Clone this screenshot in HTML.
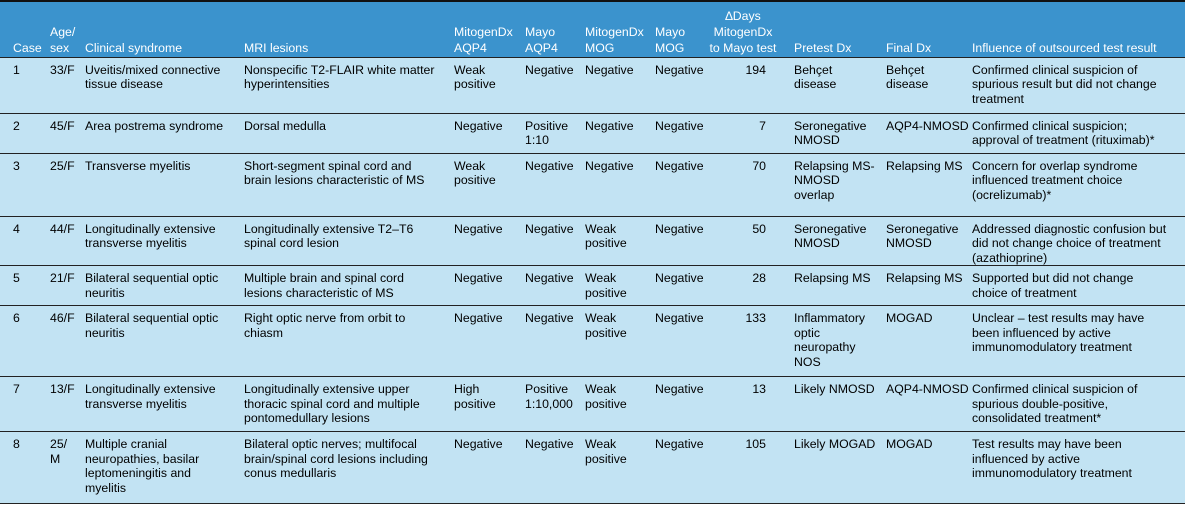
<!DOCTYPE html>
<html><head><meta charset="utf-8"><style>
body{margin:0;background:#fff;width:1185px;height:506px;overflow:hidden;font-family:"Liberation Sans",sans-serif;font-size:12.3px;}
table{position:absolute;left:0;top:0;width:1185px;border-collapse:collapse;table-layout:fixed;}
td,th{padding:5px 0 0 0;vertical-align:top;line-height:14.6px;text-align:left;font-weight:normal;white-space:nowrap;overflow:visible;}
thead tr{background:#3b93cd;color:#fff;height:56px;}
thead th{vertical-align:bottom;padding:0 0 1px 0;line-height:16px;border-top:2px solid #111;border-bottom:1.5px solid #222;}
tbody tr{background:#c2e3f3;}
tbody td{border-bottom:1.5px solid #222;}
.c1{padding-left:13px;}
.r{text-align:right;padding-right:28px;}
.hc{text-align:center;padding-right:12px!important;}
</style></head><body>
<table>
<colgroup><col style="width:50px"><col style="width:35px"><col style="width:159px"><col style="width:210px"><col style="width:71px"><col style="width:60px"><col style="width:70px"><col style="width:49px"><col style="width:90px"><col style="width:92px"><col style="width:86px"><col style="width:213px"></colgroup>
<thead><tr><th class="c1">Case</th><th>Age/<br>sex</th><th>Clinical syndrome</th><th>MRI lesions</th><th>MitogenDx<br>AQP4</th><th>Mayo<br>AQP4</th><th>MitogenDx<br>MOG</th><th>Mayo<br>MOG</th><th class="hc">∆Days<br>MitogenDx<br>to Mayo test</th><th>Pretest Dx</th><th>Final Dx</th><th>Influence of outsourced test result</th></tr></thead>
<tbody>
<tr style="height:56px"><td class="c1">1</td><td>33/F</td><td>Uveitis/mixed connective<br>tissue disease</td><td>Nonspecific T2-FLAIR white matter<br>hyperintensities</td><td>Weak<br>positive</td><td>Negative</td><td>Negative</td><td>Negative</td><td class="r">194</td><td>Behçet<br>disease</td><td>Behçet<br>disease</td><td>Confirmed clinical suspicion of<br>spurious result but did not change<br>treatment</td></tr>
<tr style="height:40px"><td class="c1">2</td><td>45/F</td><td>Area postrema syndrome</td><td>Dorsal medulla</td><td>Negative</td><td>Positive<br>1:10</td><td>Negative</td><td>Negative</td><td class="r">7</td><td>Seronegative<br>NMOSD</td><td>AQP4-NMOSD</td><td>Confirmed clinical suspicion;<br>approval of treatment (rituximab)*</td></tr>
<tr style="height:63px"><td class="c1">3</td><td>25/F</td><td>Transverse myelitis</td><td>Short-segment spinal cord and<br>brain lesions characteristic of MS</td><td>Weak<br>positive</td><td>Negative</td><td>Negative</td><td>Negative</td><td class="r">70</td><td>Relapsing MS-<br>NMOSD<br>overlap</td><td>Relapsing MS</td><td>Concern for overlap syndrome<br>influenced treatment choice<br>(ocrelizumab)*</td></tr>
<tr style="height:48px"><td class="c1">4</td><td>44/F</td><td>Longitudinally extensive<br>transverse myelitis</td><td>Longitudinally extensive T2–T6<br>spinal cord lesion</td><td>Negative</td><td>Negative</td><td>Weak<br>positive</td><td>Negative</td><td class="r">50</td><td>Seronegative<br>NMOSD</td><td>Seronegative<br>NMOSD</td><td>Addressed diagnostic confusion but<br>did not change choice of treatment<br>(azathioprine)</td></tr>
<tr style="height:40px"><td class="c1">5</td><td>21/F</td><td>Bilateral sequential optic<br>neuritis</td><td>Multiple brain and spinal cord<br>lesions characteristic of MS</td><td>Negative</td><td>Negative</td><td>Weak<br>positive</td><td>Negative</td><td class="r">28</td><td>Relapsing MS</td><td>Relapsing MS</td><td>Supported but did not change<br>choice of treatment</td></tr>
<tr style="height:71px"><td class="c1">6</td><td>46/F</td><td>Bilateral sequential optic<br>neuritis</td><td>Right optic nerve from orbit to<br>chiasm</td><td>Negative</td><td>Negative</td><td>Weak<br>positive</td><td>Negative</td><td class="r">133</td><td>Inflammatory<br>optic<br>neuropathy<br>NOS</td><td>MOGAD</td><td>Unclear – test results may have<br>been influenced by active<br>immunomodulatory treatment</td></tr>
<tr style="height:55px"><td class="c1">7</td><td>13/F</td><td>Longitudinally extensive<br>transverse myelitis</td><td>Longitudinally extensive upper<br>thoracic spinal cord and multiple<br>pontomedullary lesions</td><td>High<br>positive</td><td>Positive<br>1:10,000</td><td>Weak<br>positive</td><td>Negative</td><td class="r">13</td><td>Likely NMOSD</td><td>AQP4-NMOSD</td><td>Confirmed clinical suspicion of<br>spurious double-positive,<br>consolidated treatment*</td></tr>
<tr style="height:72px"><td class="c1">8</td><td>25/<br>M</td><td>Multiple cranial<br>neuropathies, basilar<br>leptomeningitis and<br>myelitis</td><td>Bilateral optic nerves; multifocal<br>brain/spinal cord lesions including<br>conus medullaris</td><td>Negative</td><td>Negative</td><td>Weak<br>positive</td><td>Negative</td><td class="r">105</td><td>Likely MOGAD</td><td>MOGAD</td><td>Test results may have been<br>influenced by active<br>immunomodulatory treatment</td></tr>
</tbody></table>
</body></html>
